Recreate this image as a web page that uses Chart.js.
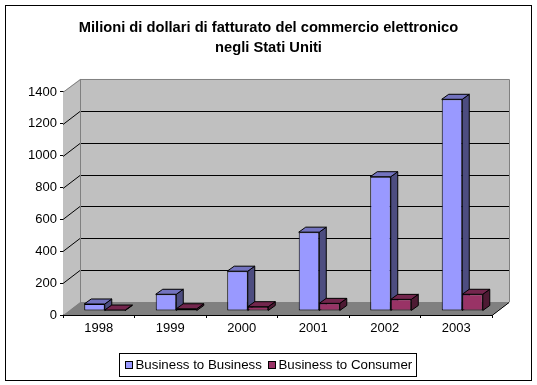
<!DOCTYPE html>
<html>
<head>
<meta charset="utf-8">
<style>
  html, body { margin: 0; padding: 0; background: #fff; }
  #wrap { width: 537px; height: 385px; }
</style>
<script src="https://cdn.jsdelivr.net/npm/chart.js@4"></script>
</head>
<body>
<div id="wrap"><canvas id="chart"></canvas></div>
<script>
const years = ['1998', '1999', '2000', '2001', '2002', '2003'];
const businessToBusiness = [44, 105, 250, 495, 843, 1329];
const businessToConsumer = [6, 14, 27, 48, 73, 105];
const yTicks = [0, 200, 400, 600, 800, 1000, 1200, 1400];
const titleLines = ['Milioni di dollari di fatturato del commercio elettronico', 'negli Stati Uniti'];

// depth of the fake 3D box and of the bars inside it
const wallDx = 17, wallDy = 13;
const barDx = 7, barDy = 5;
const barOffsetX = 6, barOffsetY = 4;
const fontName = '"Liberation Sans", Arial';

function poly(ctx, pts, fill, stroke) {
    ctx.beginPath();
    pts.forEach((p, i) => i ? ctx.lineTo(p[0], p[1]) : ctx.moveTo(p[0], p[1]));
    ctx.closePath();
    if (fill) { ctx.fillStyle = fill; ctx.fill(); }
    if (stroke) { ctx.strokeStyle = stroke; ctx.lineWidth = 1; ctx.stroke(); }
}

const box3d = {
    id: 'box3d',
    beforeDatasetsDraw(chart) {
        const ctx = chart.ctx;
        const a = chart.chartArea;
        const y = chart.scales.y;
        const l = a.left, r = a.right, t = a.top, b = a.bottom;
        ctx.save();
        // walls and floor
        poly(ctx, [[l, t], [l + wallDx, t - wallDy], [l + wallDx, b - wallDy], [l, b]], '#c0c0c0');
        poly(ctx, [[l + wallDx, t - wallDy], [r + wallDx, t - wallDy], [r + wallDx, b - wallDy], [l + wallDx, b - wallDy]], '#c0c0c0');
        poly(ctx, [[l, b], [l + wallDx, b - wallDy], [r + wallDx, b - wallDy], [r, b]], '#808080');
        // grid lines, slanted on the side wall then flat on the back
        ctx.strokeStyle = '#000';
        ctx.lineWidth = 1;
        yTicks.forEach(v => {
            if (v === 0 || v === 1400) return;
            const py = Math.round(y.getPixelForValue(v)) + 0.5;
            ctx.beginPath();
            ctx.moveTo(l, py);
            ctx.lineTo(l + wallDx, py - wallDy);
            ctx.lineTo(r + wallDx, py - wallDy);
            ctx.stroke();
        });
        // wall edges
        ctx.strokeStyle = '#808080';
        ctx.beginPath();
        ctx.moveTo(l + wallDx + 0.5, t - wallDy);
        ctx.lineTo(l + wallDx + 0.5, b - wallDy);
        ctx.moveTo(l + 0.5, t);
        ctx.lineTo(l + wallDx + 0.5, t - wallDy + 0.5);
        ctx.lineTo(r + wallDx + 0.5, t - wallDy + 0.5);
        ctx.lineTo(r + wallDx + 0.5, b - wallDy);
        ctx.lineTo(r + 0.5, b);
        ctx.stroke();
        // front edge of the floor on the right
        ctx.strokeStyle = '#000';
        ctx.beginPath();
        ctx.moveTo(r, b + 0.5);
        ctx.lineTo(r + wallDx, b - wallDy + 0.5);
        ctx.stroke();
        ctx.restore();
    },
    // the datasets are painted by hand in afterDatasetsDraw, first series first
    beforeDatasetDraw() {
        return false;
    },
    afterDatasetsDraw(chart) {
        const ctx = chart.ctx;
        chart.data.datasets.forEach((ds, i) => {
            const meta = chart.getDatasetMeta(i);
            ctx.save();
            ctx.translate(barOffsetX, -barOffsetY);
            meta.data.forEach(bar => {
                const p = bar.getProps(['x', 'y', 'base', 'width'], true);
                const x0 = p.x - p.width / 2;
                const x1 = p.x + p.width / 2;
                poly(ctx, [[x1, p.y], [x1 + barDx, p.y - barDy], [x1 + barDx, p.base - barDy], [x1, p.base]], ds.sideColor, '#000');
                poly(ctx, [[x0, p.y], [x0 + barDx, p.y - barDy], [x1 + barDx, p.y - barDy], [x1, p.y]], ds.topColor, '#000');
            });
            meta.controller.draw();
            ctx.restore();
        });
    },
    afterDraw(chart) {
        const ctx = chart.ctx;
        ctx.save();
        ctx.strokeStyle = '#000';
        ctx.lineWidth = 1;
        // outer frame of the picture
        ctx.strokeRect(5.5, 5.5, 526, 375);
        // legend box, swatch sits closer to the text than the built-in legend allows
        ctx.strokeRect(119.5, 353.5, 297, 23);
        ctx.font = '13.3px ' + fontName;
        ctx.textBaseline = 'alphabetic';
        const legendX = [125.5, 268.5];
        chart.data.datasets.forEach((ds, i) => {
            ctx.fillStyle = ds.backgroundColor;
            ctx.fillRect(legendX[i], 361.5, 7, 7);
            ctx.strokeRect(legendX[i], 361.5, 7, 7);
            ctx.fillStyle = '#000';
            ctx.fillText(ds.label, legendX[i] + 10, 369);
        });
        ctx.restore();
    }
};

new Chart(document.getElementById('chart').getContext('2d'), {
    type: 'bar',
    data: {
        labels: years,
        datasets: [
            {
                label: 'Business to Business',
                data: businessToBusiness,
                backgroundColor: '#9999ff',
                borderColor: '#000',
                borderWidth: 1,
                borderSkipped: false,
                sideColor: '#4d4d80',
                topColor: '#7373bf'
            },
            {
                label: 'Business to Consumer',
                data: businessToConsumer,
                backgroundColor: '#993366',
                borderColor: '#000',
                borderWidth: 1,
                borderSkipped: false,
                sideColor: '#4d1a33',
                topColor: '#73264d'
            }
        ]
    },
    options: {
        responsive: true,
        maintainAspectRatio: false,
        animation: false,
        categoryPercentage: 0.574,
        barPercentage: 1,
        layout: { padding: 0 },
        plugins: {
            title: {
                display: true,
                text: titleLines,
                color: '#000',
                font: { family: fontName, size: 14.7, weight: 'bold', lineHeight: 1.36 },
                padding: { top: 18, bottom: 34 }
            },
            legend: { display: false },
            tooltip: { enabled: false }
        },
        scales: {
            x: {
                afterFit(scale) { scale.height = 70; },
                grid: { drawOnChartArea: false, drawTicks: true, tickLength: 3, color: '#000', offset: true },
                border: { color: '#000' },
                ticks: { color: '#000', padding: 3, font: { family: fontName, size: 13 } }
            },
            y: {
                min: 0,
                max: 1400,
                afterFit(scale) { scale.width = 63; },
                afterBuildTicks(scale) { scale.ticks = yTicks.map(v => ({ value: v })); },
                grid: { drawOnChartArea: false, drawTicks: true, tickLength: 3, color: '#000' },
                border: { color: '#000' },
                ticks: { color: '#000', padding: 3, font: { family: fontName, size: 13 }, callback: v => String(v) }
            },
            // empty axis, only keeps the plot clear of the right side so title stays centred
            yRight: {
                position: 'right',
                afterFit(scale) { scale.width = 45; },
                grid: { display: false },
                border: { display: false },
                ticks: { callback: () => '' }
            }
        }
    },
    plugins: [box3d]
});
</script>
</body>
</html>
